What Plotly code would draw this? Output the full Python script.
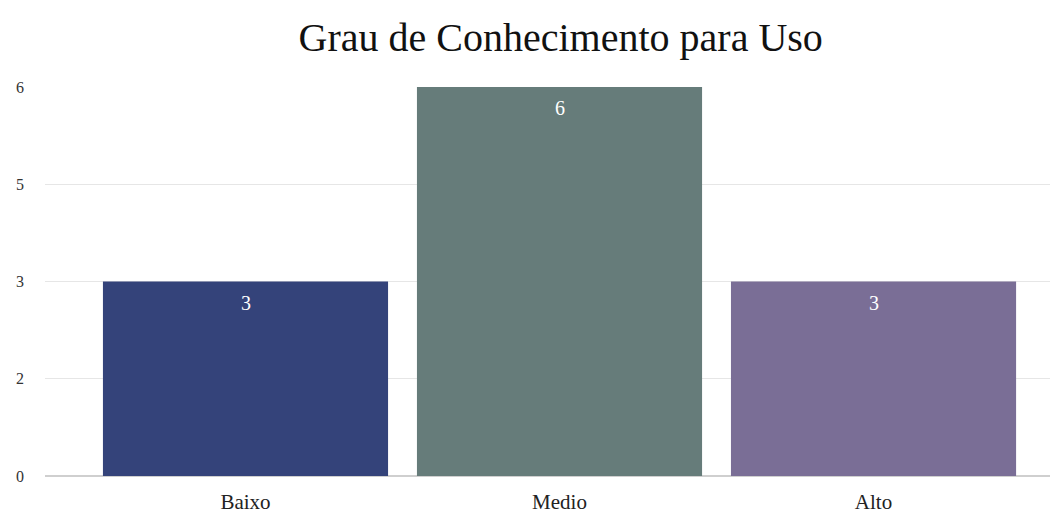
import plotly.graph_objects as go

categories = ["Baixo", "Medio", "Alto"]
values = [3, 6, 3]
colors = ["#34437a", "#667c7a", "#7a6e96"]
y_tickvals = [0, 1.5, 3, 4.5, 6]
y_ticktext = ["0", "2", "3", "5", "6"]

fig = go.Figure(go.Bar(
    x=categories, y=values, width=0.908,
    marker=dict(color=colors, line=dict(width=0)),
    hoverinfo="x+y",
))

for c, v in zip(categories, values):
    fig.add_annotation(x=c, y=v, text=str(v), showarrow=False, yanchor="middle",
                       yshift=-21, font=dict(color="white", size=20, family="Liberation Serif"))

fig.update_layout(
    width=1060, height=515,
    margin=dict(l=45, r=10, t=87, b=39, autoexpand=False),
    paper_bgcolor="white", plot_bgcolor="white",
    font=dict(family="Liberation Serif", color="#222"),
    title=dict(text="Grau de Conhecimento para Uso", x=0.529, xanchor="center",
               y=0.928, yanchor="middle", font=dict(size=40, color="#111")),
    showlegend=False,
    xaxis=dict(range=[-0.6385, 2.562], showgrid=False, showline=False, automargin=False,
               tickfont=dict(size=21, color="#222"), ticks="", ticklabelstandoff=11),
    yaxis=dict(range=[0, 6], tickvals=y_tickvals, ticktext=y_ticktext, automargin=False,
               showgrid=True, gridcolor="#e6e6e6", zeroline=True, zerolinecolor="#cfcfcf",
               tickfont=dict(size=16, color="#333"), ticklabelstandoff=20),
)

fig.write_html("out.html")
